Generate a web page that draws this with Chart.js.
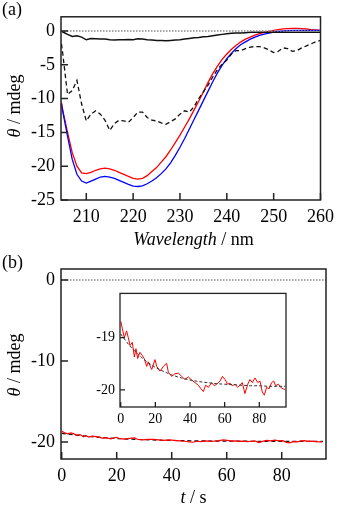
<!DOCTYPE html>
<html>
<head>
<meta charset="utf-8">
<script src="https://cdn.jsdelivr.net/npm/chart.js@4.4.0/dist/chart.umd.min.js"></script>
<style>
  body { margin: 0; background: #fff; }
  #wrap { position: relative; width: 340px; height: 506px; font-family: "Liberation Serif", "Times New Roman", Times, "DejaVu Serif", serif; color: #000; }
  canvas { position: absolute; }
  .lbl { position: absolute; font-size: 18px; line-height: 20px; white-space: nowrap; }
  .ytitle { position: absolute; font-size: 18px; line-height: 20px; white-space: nowrap; transform: translate(-50%, -50%) rotate(-90deg); }
</style>
</head>
<body>
<div id="wrap">
  <canvas id="chartA" style="left:0;top:0" width="340" height="250"></canvas>
  <canvas id="chartB" style="left:0;top:250px" width="340" height="256"></canvas>
  <canvas id="chartC" style="left:80px;top:280px" width="215" height="150"></canvas>
  <div class="lbl" style="left:2px;top:-1px">(a)</div>
  <div class="lbl" style="left:2px;top:252px">(b)</div>
  <div class="lbl" style="left:61px;width:265px;text-align:center;top:229px"><i>Wavelength</i> / nm</div>
  <div class="lbl" style="left:61px;width:265px;text-align:center;top:487px"><i>t</i> / s</div>
  <div class="ytitle" style="left:14px;top:106px"><i>θ</i> / mdeg</div>
  <div class="ytitle" style="left:14px;top:365px"><i>θ</i> / mdeg</div>
</div>
<script>
const serif = '"Liberation Serif", "Times New Roman", Times, "DejaVu Serif", serif'

// (a) CD spectra
const wavelengths = [204.7,205,206,207,208,209,210,211,212,213,214,215,216,217,218,219,220,221,222,223,224,225,226,227,228,229,230,
  231,232,233,234,235,236,237,238,239,240,241,242,243,244,245,246,247,248,249,250,251,252,253,254,255,256,257,258,259,260]
const redSpectrum = [-10.6,-11.8,-15.0,-18.0,-20.0,-21.0,-21.1,-20.9,-20.6,-20.4,-20.3,-20.4,-20.6,-20.9,-21.2,-21.5,-21.8,-21.9,-21.8,-21.4,-20.8,
  -20.2,-19.4,-18.6,-17.6,-16.5,-15.4,-14.2,-13.0,-11.7,-10.4,-9.0,-7.6,-6.3,-5.2,-4.2,-3.4,-2.7,-2.1,-1.6,-1.2,
  -0.9,-0.6,-0.4,-0.2,-0.05,0.1,0.2,0.3,0.35,0.4,0.4,0.35,0.3,0.2,0.15,0.1]
const blueSpectrum = [-10.8,-12.0,-15.6,-19.0,-21.2,-22.2,-22.5,-22.2,-21.9,-21.6,-21.5,-21.6,-21.8,-22.1,-22.4,-22.7,-22.95,-23.0,-22.9,-22.6,-22.2,
  -21.7,-21.1,-20.4,-19.5,-18.4,-17.2,-15.9,-14.5,-13.1,-11.7,-10.3,-8.9,-7.5,-6.2,-5.1,-4.1,-3.3,-2.6,-2.0,-1.6,
  -1.2,-0.9,-0.65,-0.45,-0.3,-0.15,-0.05,0.0,0.05,0.1,0.1,0.1,0.1,0.1,0.1,0.1]
const blackSpectrum = [0,-0.15,-0.5,-0.8,-0.7,-0.9,-1.3,-1.1,-1.15,-1.2,-1.2,-1.3,-1.35,-1.3,-1.3,-1.25,-1.3,-1.15,-1.2,-1.3,-1.35,
  -1.4,-1.4,-1.45,-1.4,-1.35,-1.3,-1.2,-1.1,-1.0,-0.95,-0.85,-0.8,-0.7,-0.6,-0.5,-0.4,-0.35,-0.3,-0.3,-0.25,
  -0.2,-0.2,-0.2,-0.2,-0.2,-0.2,-0.2,-0.2,-0.2,-0.2,-0.2,-0.2,-0.2,-0.2,-0.2,-0.2]
const dashedSpectrum = [-1.9,-3.5,-9.4,-8.8,-7.3,-10.8,-13.3,-12.3,-11.8,-12.3,-13.2,-14.7,-13.7,-13.2,-13.3,-13.5,-12.8,-12.0,-12.0,-12.8,-13.2,
  -13.3,-13.6,-13.8,-13.4,-13.0,-12.3,-11.8,-12.0,-11.2,-10.0,-9.0,-8.0,-6.8,-5.7,-4.9,-4.3,-3.4,-2.9,-2.9,-2.6,
  -2.4,-2.3,-2.3,-2.5,-2.8,-3.2,-3.0,-2.5,-2.6,-3.0,-2.9,-2.5,-2.2,-1.9,-1.6,-1.4]
const ticksWavelength = [210,220,230,240,250,260]
const ticksThetaA = [-25,-20,-15,-10,-5,0]

// (b) time trace
const traceTime = [0.1,0.9,2.1,3.4,4.4,5.4,6.7,7.9,8.8,9.8,11.1,12.5,13.6,15.0,15.9,17.9,19.8,20.8,22.7,24.6,26.5,27.5,29.4,31.3,33.3,35.2,
  37.1,39.0,41.0,42.9,44.8,46.4,47.7,49.0,50.6,52.5,54.0,55.4,57.3,58.7,60.2,61.7,63.1,64.4,66.0,67.5,68.8,70.2,71.7,73.3,74.6,76.0,
  77.5,79.1,80.4,81.7,82.9,84.2,85.6,87.1,88.3,89.4,91.0,92.3,93.8,94.8]
const traceTheta = [-18.69,-18.82,-19.0,-18.87,-19.0,-19.15,-19.09,-19.37,-19.21,-19.4,-19.28,-19.34,-19.4,-19.55,-19.46,-19.61,-19.42,-19.55,
  -19.64,-19.55,-19.49,-19.66,-19.74,-19.69,-19.68,-19.74,-19.8,-19.75,-19.81,-19.86,-19.91,-19.98,-20.03,-19.91,-19.95,-19.86,-19.92,
  -19.89,-19.83,-19.74,-19.8,-19.89,-19.87,-19.92,-19.89,-19.95,-19.91,-19.86,-20.07,-19.89,-19.8,-19.86,-19.77,-19.86,-19.83,-20.04,
  -20.1,-19.95,-19.98,-19.86,-19.83,-19.92,-19.89,-19.95,-19.98,-19.99]
const fitTime = [0,5,10,15,20,25,30,35,40,45,50,55,60,65,70,75,80,85,90,95]
const fitTheta = [-18.93,-19.15,-19.32,-19.46,-19.57,-19.65,-19.72,-19.77,-19.81,-19.84,-19.86,-19.88,-19.89,-19.9,-19.91,-19.92,-19.92,-19.93,-19.93,-19.93]
const ticksTime = [0,20,40,60,80]
const ticksThetaB = [-20,-10,0]
const ticksThetaInset = [-20,-19]

const pts = (xs, ys) => xs.map((x, i) => ({ x, y: ys[i] }))

// box round the plot area, with ticks pointing inwards
function frame(tick, width) {
  return {
    id: "frame",
    afterDraw(chart) {
      const { ctx, chartArea: a, scales } = chart
      ctx.save()
      ctx.strokeStyle = "#222"
      ctx.lineWidth = width
      ctx.strokeRect(a.left, a.top, a.right - a.left, a.bottom - a.top)
      ctx.beginPath()
      scales.x.ticks.forEach(t => {
        const px = scales.x.getPixelForValue(t.value)
        ctx.moveTo(px, a.bottom)
        ctx.lineTo(px, a.bottom - tick)
      })
      scales.y.ticks.forEach(t => {
        const py = scales.y.getPixelForValue(t.value)
        ctx.moveTo(a.left, py)
        ctx.lineTo(a.left + tick, py)
      })
      ctx.stroke()
      ctx.restore()
    }
  }
}

function axis(min, max, ticks, size, fontSize, pad) {
  return {
    type: "linear", min, max,
    afterBuildTicks: s => { s.ticks = ticks.map(v => ({ value: v })) },
    afterFit: s => { if (s.isHorizontal()) s.height = size; else s.width = size },
    grid: { display: false, drawTicks: false },
    border: { display: false },
    ticks: { color: "#000", padding: pad, maxRotation: 0, autoSkip: false,
      font: { family: serif, size: fontSize }, callback: v => String(v) }
  }
}

function line(data, color, width, dash) {
  return { data, borderColor: color, borderWidth: width, borderDash: dash || [], pointRadius: 0, fill: false, tension: 0 }
}

const baseOptions = (padding, x, y) => ({
  responsive: false, animation: false,
  layout: { padding },
  plugins: { legend: { display: false }, tooltip: { enabled: false } },
  scales: { x, y }
})

function initSpectraChart() {
  new Chart(document.getElementById("chartA"), {
    type: "line",
    data: { datasets: [
      line(pts([204.6, 260], [0, 0]), "#8a8a8a", 1.5, [1.5, 1.5]),
      line(pts(wavelengths, dashedSpectrum), "#111", 1.3, [4.5, 3]),
      line(pts(wavelengths, blackSpectrum), "#111", 1.5),
      line(pts(wavelengths, blueSpectrum), "#0000ff", 1.3),
      line(pts(wavelengths, redSpectrum), "#ff0000", 1.3)
    ] },
    options: baseOptions({ top: 12, right: 14, left: 0, bottom: 0 },
      axis(204.6, 260, ticksWavelength, 50, 18, 6),
      axis(-25, 2.1, ticksThetaA, 61, 18, 6)),
    plugins: [frame(7, 1.5)]
  })
}

function initTraceChart() {
  new Chart(document.getElementById("chartB"), {
    type: "line",
    data: { datasets: [
      line(pts([-0.25, 96.1], [0, 0]), "#8a8a8a", 1.5, [1.5, 1.5]),
      line(pts(traceTime, traceTheta), "#ff0000", 1.2),
      line(pts(fitTime, fitTheta), "#111", 1.2, [4, 3])
    ] },
    options: baseOptions({ top: 19, right: 14, left: 0, bottom: 0 },
      axis(-0.25, 96.1, ticksTime, 47, 18, 6),
      axis(-22.1, 1.35, ticksThetaB, 61, 18, 6)),
    plugins: [frame(7, 1.5)]
  })
}

function initInsetChart() {
  new Chart(document.getElementById("chartC"), {
    type: "line",
    data: { datasets: [
      line(pts(fitTime, fitTheta), "#333", 1, [3, 2]),
      line(pts(traceTime, traceTheta), "#ff0000", 1)
    ] },
    options: baseOptions({ top: 9, right: 9, left: 0, bottom: 0 },
      axis(-0.4, 95.4, ticksTime, 23, 14, 4),
      axis(-20.326, -18.153, ticksThetaInset, 40, 14, 5)),
    plugins: [frame(5, 1.3)]
  })
}

initSpectraChart()
initTraceChart()
initInsetChart()
</script>
</body>
</html>
